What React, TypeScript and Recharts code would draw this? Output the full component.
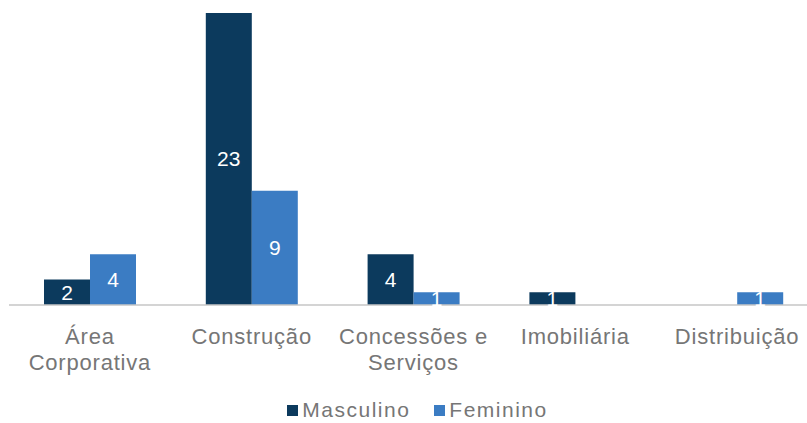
import { BarChart, Bar, XAxis, YAxis, LabelList, Legend } from 'recharts';

// Colaboradores por área e gênero
const categories = ['Área Corporativa', 'Construção', 'Concessões e Serviços', 'Imobiliária', 'Distribuição'];
const tickLines = [['Área', 'Corporativa'], ['Construção'], ['Concessões e', 'Serviços'], ['Imobiliária'], ['Distribuição']];
const masculino = [2, 23, 4, 1, 0];
const feminino = [4, 9, 1, 0, 1];

const series = [
    { key: 'Masculino', color: '#0c3a5d' },
    { key: 'Feminino', color: '#3b7cc3' },
];

const data = categories.map((name, i) => ({ name, Masculino: masculino[i], Feminino: feminino[i] }));

const FONT = '"Liberation Sans", Arial, sans-serif';
const GRAY = '#767676';

function CategoryTick({ x, y, payload }: any) {
    const lines = tickLines[payload.index] || [payload.value];
    return (
        <text x={x} y={y} textAnchor="middle" fill={GRAY} fontSize={22} fontFamily={FONT} letterSpacing={0.8}>
            {lines.map((line, i) => (
                <tspan key={i} x={x} dy={i === 0 ? 31 : 26}>{line}</tspan>
            ))}
        </text>
    );
}

function LegendBox() {
    return (
        <div style={{ display: 'flex', justifyContent: 'center', alignItems: 'center', fontFamily: FONT, fontSize: 21, color: GRAY, letterSpacing: 1.5, height: 22, paddingLeft: 8 }}>
            {series.map((s, i) => (
                <span key={s.key} style={{ display: 'flex', alignItems: 'center', marginLeft: i === 0 ? 0 : 24 }}>
                    <span style={{ width: 11, height: 11, background: s.color, display: 'inline-block', marginRight: 4 }} />
                    {s.key}
                </span>
            ))}
        </div>
    );
}

const hideZero = (v: any) => (v ? v : '');

export default function App() {
    return (
        <div style={{ position: 'absolute', left: 0, top: 0, width: 807, height: 423, overflow: 'hidden', background: '#fff' }}>
            <BarChart width={818} height={423} data={data} margin={{ top: 13, right: 0, left: 9, bottom: 0 }} barGap={0} barSize={46}>
                <XAxis
                    dataKey="name"
                    interval={0}
                    tickLine={false}
                    tickSize={8}
                    tickMargin={0}
                    height={96}
                    axisLine={{ stroke: '#c6c6c6', strokeWidth: 1.5 }}
                    tick={<CategoryTick />}
                />
                <YAxis hide domain={[0, 23]} />
                {series.map((s) => (
                    <Bar key={s.key} dataKey={s.key} fill={s.color} isAnimationActive={false}>
                        <LabelList dataKey={s.key} position="center" fill="#ffffff" fontSize={21} fontFamily={FONT} formatter={hideZero} />
                    </Bar>
                ))}
                <Legend verticalAlign="bottom" height={22} content={<LegendBox />} wrapperStyle={{ bottom: 2 }} />
            </BarChart>
        </div>
    );
}
